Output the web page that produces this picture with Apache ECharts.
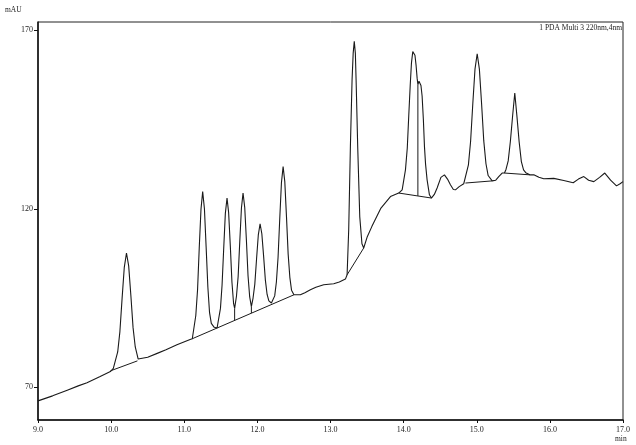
<!DOCTYPE html>
<html>
<head>
<meta charset="utf-8">
<script src="https://cdn.jsdelivr.net/npm/echarts@6/dist/echarts.min.js"></script>
<style>
  html, body { margin: 0; padding: 0; background: #fff; }
  #chart { width: 636px; height: 445px; }
</style>
</head>
<body>
<div id="chart"></div>
<script>
// chromatogram trace (time in min, signal in mAU)
const signalTime = [
  9.00, 9.20, 9.40, 9.55, 9.67, 9.85, 9.99,
  10.03, 10.09, 10.12, 10.15, 10.18, 10.21, 10.24, 10.27, 10.30, 10.33, 10.37,
  10.50, 10.63, 10.75, 10.90, 11.08, 11.11,
  11.158, 11.182, 11.205, 11.229, 11.252, 11.276, 11.299, 11.323, 11.346, 11.37, 11.41, 11.449,
  11.495, 11.517, 11.54, 11.562, 11.585, 11.607, 11.63, 11.652, 11.675, 11.689,
  11.714, 11.737, 11.759, 11.782, 11.804, 11.827, 11.85, 11.872, 11.895, 11.918,
  11.941, 11.965, 11.989, 12.013, 12.037, 12.061, 12.085, 12.109, 12.133, 12.157, 12.192,
  12.237, 12.26, 12.283, 12.306, 12.329, 12.352, 12.375, 12.398, 12.421, 12.444, 12.467, 12.50,
  12.588, 12.65, 12.725, 12.80, 12.907, 13.044, 13.12, 13.204, 13.227,
  13.249, 13.272, 13.295, 13.31, 13.325, 13.34, 13.35, 13.372, 13.40, 13.43, 13.454,
  13.50, 13.565, 13.69, 13.82, 13.933, 13.98,
  14.025, 14.05, 14.07, 14.09, 14.107, 14.125, 14.138, 14.155, 14.171, 14.185, 14.195,
  14.21, 14.222, 14.237, 14.253, 14.27, 14.285, 14.30, 14.321, 14.353, 14.38,
  14.42, 14.458, 14.51, 14.558, 14.60, 14.64, 14.68, 14.709, 14.76, 14.822, 14.845,
  14.886, 14.916, 14.946, 14.976, 15.006, 15.036, 15.066, 15.096, 15.126, 15.156, 15.211,
  15.26, 15.301, 15.347, 15.379,
  15.40, 15.43, 15.46, 15.49, 15.52, 15.55, 15.58, 15.61, 15.64, 15.67, 15.725,
  15.78, 15.85, 15.916, 16.053, 16.19, 16.319, 16.39, 16.464, 16.53, 16.601,
  16.68, 16.751, 16.83, 16.911, 16.96, 17.00
];
const signalMAU = [
  66.2, 67.6, 69.2, 70.4, 71.3, 73.0, 74.4,
  75.3, 79.9, 85.6, 94.9, 103.6, 107.6, 104.0, 95.7, 86.7, 81.3, 77.9,
  78.4, 79.5, 80.5, 81.9, 83.4, 83.6,
  90.1, 97.3, 109.0, 119.9, 124.8, 120.0, 109.4, 98.0, 90.9, 87.9, 86.8, 86.6,
  92.1, 98.6, 109.1, 118.7, 123.0, 118.9, 109.6, 99.5, 93.4, 92.1,
  95.5, 101.0, 110.7, 120.2, 124.4, 120.4, 111.2, 101.3, 95.3, 92.6,
  95.0, 98.9, 106.0, 112.7, 115.8, 113.0, 106.8, 100.1, 96.0, 94.2, 93.6,
  95.6, 99.5, 106.4, 117.2, 127.3, 131.8, 127.6, 117.8, 107.3, 100.8, 97.2, 95.9,
  95.9, 96.5, 97.3, 98.0, 98.7, 99.0, 99.5, 100.3, 101.5,
  114.1, 137.4, 156.1, 163.5, 166.9, 163.5, 156.1, 137.4, 117.8, 110.2, 109.0,
  112.0, 115.0, 120.2, 123.4, 124.4, 125.3,
  130.9, 137.0, 146.0, 154.5, 160.8, 164.0, 164.5, 163.0, 160.0, 156.5, 154.8,
  155.7, 155.9, 154.5, 151.5, 145.0, 137.4, 132.5, 128.1, 123.9, 123.0,
  124.0, 125.8, 128.8, 129.5, 128.3, 126.7, 125.4, 125.3, 126.2, 127.0, 127.2,
  132.3, 138.9, 149.4, 159.1, 163.4, 159.1, 149.5, 139.0, 132.6, 129.3, 127.8,
  128.0, 129.0, 130.0, 130.0,
  131.0, 133.4, 138.9, 145.9, 152.4, 145.8, 138.7, 133.2, 130.9, 130.1, 129.5,
  129.5, 128.8, 128.4, 128.5, 127.9, 127.3, 128.3, 129.0, 128.0, 127.6,
  128.8, 130.0, 128.0, 126.4, 127.0, 127.6
];

// integration baselines and drop lines: [start time, start mAU, end time, end mAU]
const baselines = [
  [9.99, 74.6, 10.36, 77.4],
  [11.11, 83.6, 12.50, 95.9],
  [13.227, 101.5, 13.454, 109.0],
  [13.933, 124.4, 14.38, 123.0],
  [14.845, 127.2, 15.211, 127.8],
  [15.379, 130.0, 15.725, 129.5]
];
const dropLines = [
  [11.689, 92.1, 11.689, 88.8],
  [11.918, 92.6, 11.918, 90.8],
  [14.195, 154.8, 14.195, 123.6]
];

const yTicks = [70, 120, 170];

const segData = [];
baselines.concat(dropLines).forEach(s => {
  segData.push([s[0], s[1]], [s[2], s[3]], [null, null]);
});

const serif = "Liberation Serif";
const chart = echarts.init(document.getElementById("chart"));
chart.setOption({
  animation: false,
  backgroundColor: "#fff",
  grid: {
    left: 38, right: 13, top: 22, bottom: 25,
    show: true, borderColor: "#222", borderWidth: 1
  },
  xAxis: {
    type: "value",
    min: 9, max: 17, interval: 1,
    axisLine: { lineStyle: { color: "#111", width: 1.5 } },
    axisTick: { inside: false, length: 3, lineStyle: { color: "#111" } },
    axisLabel: {
      color: "#222", fontFamily: serif, fontSize: 8, margin: 6,
      formatter: v => v.toFixed(1)
    },
    splitLine: { show: false }
  },
  yAxis: {
    type: "value",
    min: 60.84, max: 172.3,
    axisLine: { show: true, lineStyle: { color: "#111", width: 1.5 } },
    axisTick: { show: true, length: 4, customValues: yTicks, lineStyle: { color: "#111" } },
    axisLabel: {
      color: "#222", fontFamily: serif, fontSize: 8, margin: 5,
      customValues: yTicks
    },
    splitLine: { show: false }
  },
  graphic: [
    { type: "text", left: 5, top: 6, style: { text: "mAU", fill: "#222", font: "7.5px " + serif } },
    { type: "text", left: 615, top: 435, style: { text: "min", fill: "#222", font: "7.5px " + serif } },
    { type: "text", right: 14, top: 24, style: { text: "1 PDA Multi 3 220nm,4nm", fill: "#222", font: "7.5px " + serif } }
  ],
  series: [
    {
      name: "signal",
      type: "line",
      data: signalTime.map((t, i) => [t, signalMAU[i]]),
      showSymbol: false,
      lineStyle: { color: "#1a1a1a", width: 1.1 }
    },
    {
      name: "integration",
      type: "line",
      data: segData,
      showSymbol: false,
      connectNulls: false,
      lineStyle: { color: "#1a1a1a", width: 1 }
    }
  ]
});
</script>
</body>
</html>
